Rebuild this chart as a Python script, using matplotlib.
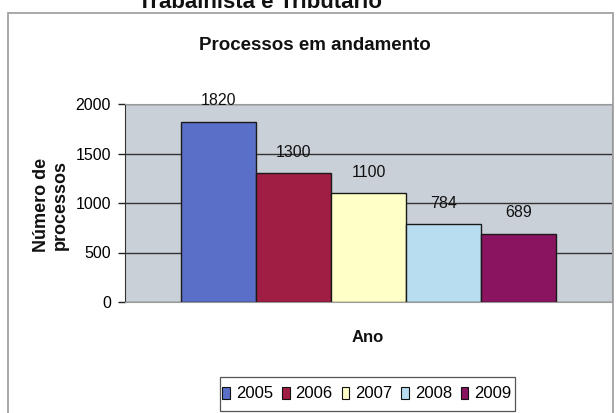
import matplotlib
matplotlib.use("Agg")
import matplotlib.pyplot as plt
from matplotlib.patches import Rectangle, Patch

plt.rcParams['font.family'] = ['Liberation Sans', 'DejaVu Sans']

years = ["2005", "2006", "2007", "2008", "2009"]
values = [1820, 1300, 1100, 784, 689]
colors = ["#5A6FC8", "#A01E44", "#FFFFC8", "#B8DCF0", "#8A1460"]
yticks = [0, 500, 1000, 1500, 2000]

W, H = 616, 413
fig = plt.figure(figsize=(W / 100, H / 100), dpi=100)
fig.patch.set_facecolor("white")

# chart frame
fig.patches.append(Rectangle((8 / W, -0.05), (613 - 8) / W, 1.05 - 13 / H,
                             transform=fig.transFigure, fill=False,
                             edgecolor="#9a9a9a", linewidth=1.2))

# cut-off heading at top
fig.text(260 / W, 1 - 8 / H, "Trabalhista e Tributário", ha="center", va="baseline",
         fontsize=16, fontweight="bold", color="#111111")

ax = fig.add_axes([125 / W, (H - 302) / H, (612 - 125) / W, (302 - 104) / H])
ax.set_facecolor("#C9D0D8")

x = list(range(len(values)))
bars = ax.bar(x, values, width=1.0, color=colors, edgecolor="#1a1a1a",
              linewidth=1.0, zorder=3)
for xi, v in zip(x, values):
    ax.annotate(str(v), (xi, v), xytext=(0, 15), textcoords="offset points",
                ha="center", va="center", fontsize=11.5, color="#111111", zorder=4)

ax.set_xlim(-1.24, 5.24)
ax.set_ylim(0, 2000)
ax.set_yticks(yticks)
ax.set_yticklabels([str(t) for t in yticks], fontsize=11.5)
ax.set_xticks([])
ax.yaxis.grid(True, color="#333333", linewidth=1.0, zorder=1)
ax.tick_params(axis="y", length=5, width=1, color="#222222", pad=5)
for s in ["top", "right", "bottom"]:
    ax.spines[s].set_color("#9a9a9a")
ax.spines["left"].set_color("#333333")

fig.text(315 / W, 1 - 45 / H, "Processos em andamento", ha="center", va="center",
         fontsize=13.5, fontweight="bold", color="#111111")
fig.text(368 / W, 1 - 338 / H, "Ano", ha="center", va="center",
         fontsize=12, fontweight="bold", color="#111111")
fig.text(51 / W, 1 - 205 / H, "Número de\nprocessos", ha="center", va="center",
         rotation=90, fontsize=13, fontweight="bold", color="#111111",
         linespacing=1.2)

# legend frame
fig.patches.append(Rectangle((220 / W, 1 - 411 / H), (515 - 220) / W, 34 / H,
                             transform=fig.transFigure, facecolor="white",
                             edgecolor="#555555", linewidth=0.9, zorder=2))
handles = [Patch(facecolor=c, edgecolor="#111111", linewidth=0.8, label=y)
           for c, y in zip(colors, years)]
leg = fig.legend(handles=handles, loc="center", bbox_to_anchor=(367 / W, 1 - 394 / H),
                 ncol=5, fontsize=12, frameon=False,
                 handlelength=0.45, handleheight=0.75, handletextpad=0.35,
                 columnspacing=0.55, borderpad=0.2, borderaxespad=0)
leg.set_zorder(5)

fig.savefig("out.png", dpi=100)
